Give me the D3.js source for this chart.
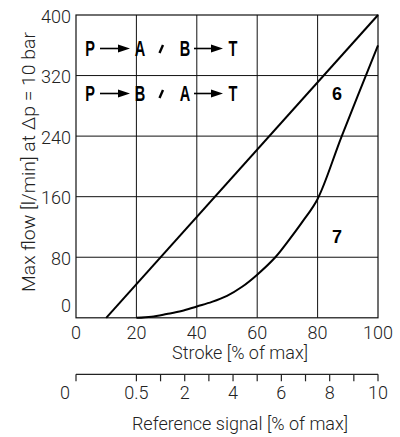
<!DOCTYPE html>
<html>
<head>
<meta charset="utf-8">
<script src="https://cdn.jsdelivr.net/npm/d3@7"></script>
<style>
  html, body { margin: 0; padding: 0; background: #fff; }
  svg { display: block; }
  .tick-label { font-family: Roboto, "Liberation Sans", sans-serif; font-weight: 300; font-size: 18px; fill: #222; }
  .title { font-family: Roboto, "Liberation Sans", sans-serif; font-weight: 300; font-size: 18px; fill: #222; }
  .legend { font-family: "Liberation Sans", Arial, sans-serif; font-weight: bold; font-size: 22px; fill: #000; }
  .curve-label { font-family: "Liberation Sans", Arial, sans-serif; font-weight: bold; font-size: 18px; fill: #000; }
</style>
</head>
<body>
<svg id="chart" width="400" height="437"></svg>
<script>
// ---- data ----
const xTicks = [0, 20, 40, 60, 80, 100];          // Stroke [% of max]
const yTicks = [0, 80, 160, 240, 320, 400];       // Max flow [l/min]
const gridX = [20, 40, 60, 80];
const gridY = [80, 160, 240, 320];

// curve 6: P->A / B->T  (stroke %, flow l/min)
const curve6Stroke = [10, 100];
const curve6Flow   = [0, 400];

// curve 7
const curve7Stroke = [20, 25, 30, 35, 40, 45, 50, 55, 60, 66, 70, 75, 80, 88, 100];
const curve7Flow   = [0, 1.5, 5, 9, 15, 21, 29, 41, 57, 80, 100, 127, 157, 240, 360];

// reference signal axis: signal value -> stroke position
const signalTicks   = [0, 0.5, 1, 2, 3, 4, 5, 6, 7, 8, 9, 10];
const signalLabels  = ["0", "0.5", "2", "4", "6", "8", "10"];
const signalLabelVals = [0, 0.5, 2, 4, 6, 8, 10];
const signalDomain = [0, 0.5, 1, 10];
const signalStroke = [0, 20, 28, 100];

// ---- layout ----
const svg = d3.select("#chart");
const x = d3.scaleLinear().domain([0, 100]).range([76, 378]);
const y = d3.scaleLinear().domain([0, 400]).range([317.8, 15]);
const sig = d3.scaleLinear().domain(signalDomain).range(signalStroke);

// grid
svg.append("g").selectAll("line").data(gridX).join("line")
  .attr("x1", d => x(d)).attr("x2", d => x(d))
  .attr("y1", y(0)).attr("y2", y(400))
  .attr("stroke", "#111").attr("stroke-width", 1);
svg.append("g").selectAll("line").data(gridY).join("line")
  .attr("x1", x(0)).attr("x2", x(100))
  .attr("y1", d => y(d)).attr("y2", d => y(d))
  .attr("stroke", "#111").attr("stroke-width", 1);

// frame
svg.append("rect")
  .attr("x", x(0)).attr("y", y(400))
  .attr("width", x(100) - x(0)).attr("height", y(0) - y(400))
  .attr("fill", "none").attr("stroke", "#111").attr("stroke-width", 1.2);

// curves
const line = d3.line().x(d => x(d[0])).y(d => y(d[1]));
const curve = d3.line().x(d => x(d[0])).y(d => y(d[1])).curve(d3.curveCatmullRom.alpha(0.5));
svg.append("path")
  .attr("d", line(curve6Stroke.map((s, i) => [s, curve6Flow[i]])))
  .attr("fill", "none").attr("stroke", "#000").attr("stroke-width", 2);
svg.append("path")
  .attr("d", curve(curve7Stroke.map((s, i) => [s, curve7Flow[i]])))
  .attr("fill", "none").attr("stroke", "#000").attr("stroke-width", 2);

// y tick labels
svg.append("g").selectAll("text").data(yTicks).join("text")
  .attr("class", "tick-label")
  .attr("x", 71)
  .attr("y", d => (d === 0 ? y(d) - 13 : y(d)) + 7.5)
  .attr("text-anchor", "end")
  .text(d => d);

// x tick labels
svg.append("g").selectAll("text").data(xTicks).join("text")
  .attr("class", "tick-label")
  .attr("x", d => x(d))
  .attr("y", 338.5)
  .attr("text-anchor", "middle")
  .text(d => d);

// titles
svg.append("text").attr("class", "title")
  .attr("x", 240).attr("y", 359)
  .attr("text-anchor", "middle")
  .text("Stroke [% of max]");

svg.append("text").attr("class", "title")
  .attr("transform", "translate(34.5,162) rotate(-90)")
  .attr("text-anchor", "middle")
  .attr("textLength", 260)
  .attr("lengthAdjust", "spacingAndGlyphs")
  .text("Max flow  [l/min] at Δp = 10 bar");

// reference signal axis
const axisY = 374.3;
svg.append("line")
  .attr("x1", x(sig(0))).attr("x2", x(sig(10)))
  .attr("y1", axisY).attr("y2", axisY)
  .attr("stroke", "#222").attr("stroke-width", 1.2);
svg.append("g").selectAll("line").data(signalTicks).join("line")
  .attr("x1", d => x(sig(d))).attr("x2", d => x(sig(d)))
  .attr("y1", axisY).attr("y2", axisY + 7)
  .attr("stroke", "#222").attr("stroke-width", 1.2);
svg.append("g").selectAll("text").data(signalLabelVals).join("text")
  .attr("class", "tick-label")
  .attr("x", d => d === 0 ? x(sig(d)) - 11 : x(sig(d)))
  .attr("y", 398.5)
  .attr("text-anchor", "middle")
  .text((d, i) => signalLabels[i]);

svg.append("text").attr("class", "title")
  .attr("x", 240).attr("y", 430)
  .attr("text-anchor", "middle")
  .text("Reference signal [% of max]");

// legend rows
const legendRows = [
  { y: 56, items: ["P", "A", "B", "T"] },
  { y: 101, items: ["P", "B", "A", "T"] }
];
const letterX = [90, 140, 185, 233];
function letter(ch, cx, by) {
  svg.append("text").attr("class", "legend")
    .attr("transform", `translate(${cx},${by}) scale(0.66,1)`)
    .attr("text-anchor", "middle")
    .text(ch);
}
function arrow(x1, x2, cy) {
  svg.append("line").attr("x1", x1).attr("x2", x2 - 10)
    .attr("y1", cy).attr("y2", cy)
    .attr("stroke", "#000").attr("stroke-width", 1.6);
  svg.append("path")
    .attr("d", `M${x2 - 12},${cy - 4}L${x2},${cy}L${x2 - 12},${cy + 4}Z`)
    .attr("fill", "#000");
}
legendRows.forEach(r => {
  const cy = r.y - 7.5;
  letter(r.items[0], letterX[0], r.y);
  arrow(100, 130, cy);
  letter(r.items[1], letterX[1], r.y);
  svg.append("line")
    .attr("x1", 159.5).attr("x2", 163)
    .attr("y1", r.y - 3).attr("y2", r.y - 11)
    .attr("stroke", "#000").attr("stroke-width", 2.4);
  letter(r.items[2], letterX[2], r.y);
  arrow(194, 223, cy);
  letter(r.items[3], letterX[3], r.y);
});

// curve labels
svg.append("text").attr("class", "curve-label")
  .attr("x", 337).attr("y", 99.5).attr("text-anchor", "middle").text("6");
svg.append("text").attr("class", "curve-label")
  .attr("x", 337).attr("y", 243).attr("text-anchor", "middle").text("7");
</script>
</body>
</html>
